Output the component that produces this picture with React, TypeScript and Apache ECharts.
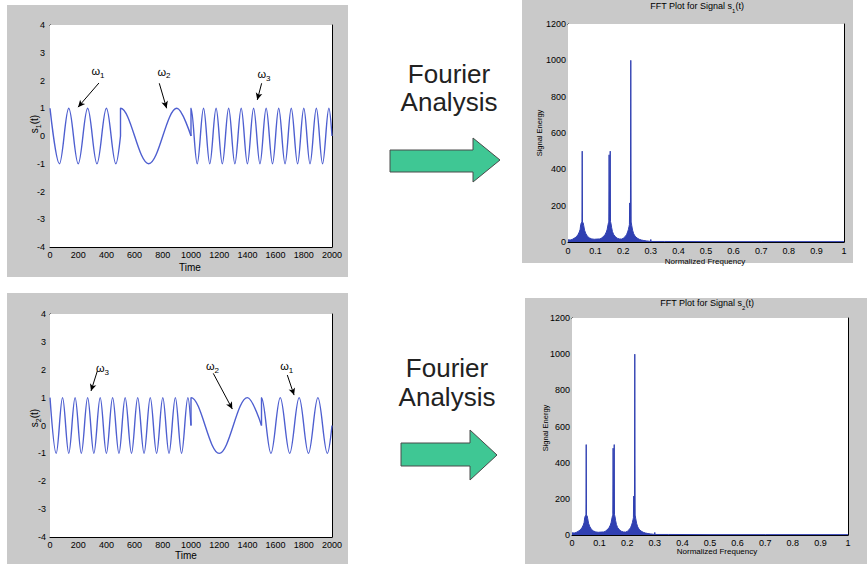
import React, { useEffect, useRef } from 'react';
import * as echarts from 'echarts';

// ---------- data ----------
// s1(t): extrema / segment-end points (time, amplitude); a repeated time is a jump
const s1Time = [0, 67, 133, 200, 267, 333, 400, 467, 500, 500, 700, 900, 1000, 1000,
  1044, 1089, 1133, 1178, 1222, 1267, 1311, 1356, 1400, 1444, 1489, 1533, 1578, 1622,
  1667, 1711, 1756, 1800, 1844, 1889, 1933, 1978, 2000];
const s1Value = [1, -1, 1, -1, 1, -1, 1, -1, 0, 1, -1, 1, 0, 1,
  -1, 1, -1, 1, -1, 1, -1, 1, -1, 1, -1, 1, -1, 1,
  -1, 1, -1, 1, -1, 1, -1, 1, 0];

// s2(t)
const s2Time = [0, 44, 89, 133, 178, 222, 267, 311, 356, 400, 444, 489, 533, 578, 622,
  667, 711, 756, 800, 844, 889, 933, 978, 1000, 1000, 1200, 1400, 1500, 1500,
  1567, 1633, 1700, 1767, 1833, 1900, 1967, 2000];
const s2Value = [1, -1, 1, -1, 1, -1, 1, -1, 1, -1, 1, -1, 1, -1, 1,
  -1, 1, -1, 1, -1, 1, -1, 1, 0, 1, -1, 1, 0, 1,
  -1, 1, -1, 1, -1, 1, -1, 0];

// FFT spectrum (normalized frequency, signal energy)
const fft1Points: [number, number][] = [
  [0, 12], [0.008, 11], [0.015, 14], [0.022, 20], [0.03, 28], [0.036, 40], [0.041, 55],
  [0.044, 70], [0.046, 95], [0.048, 105], [0.0505, 110], [0.0515, 500], [0.0525, 110],
  [0.055, 105], [0.057, 90], [0.06, 65], [0.064, 48], [0.07, 32], [0.078, 22], [0.086, 17],
  [0.095, 15], [0.105, 16], [0.115, 17],
  [0.12, 20], [0.127, 28], [0.134, 40], [0.139, 55], [0.142, 70], [0.145, 95], [0.147, 108],
  [0.148, 115], [0.149, 480], [0.15, 120], [0.1515, 118], [0.153, 500], [0.154, 112],
  [0.156, 100], [0.158, 80], [0.161, 58], [0.165, 42], [0.171, 30], [0.178, 21], [0.186, 17],
  [0.194, 16],
  [0.2, 20], [0.206, 28], [0.212, 40], [0.216, 55], [0.219, 70], [0.221, 85], [0.2225, 95],
  [0.2235, 215], [0.225, 205], [0.2262, 110], [0.2275, 1000], [0.2288, 110], [0.231, 90],
  [0.234, 65], [0.238, 45], [0.243, 32], [0.25, 22], [0.258, 15], [0.266, 11], [0.275, 8],
  [0.285, 6], [0.295, 4], [0.299, 4], [0.3, 14], [0.301, 3], [0.35, 3], [0.5, 2], [0.7, 2], [1, 2],
];
const fft2Points: [number, number][] = fft1Points;

// axis ranges [min, max, interval]
const timeRange = [0, 2000, 200];
const ampRange = [-4, 4, 1];
const freqRange = [0, 1, 0.1];
const energyRange = [0, 1200, 200];

// annotations: subscript, label position, arrow start, arrow end (data coords)
const s1Notes = [
  { sub: '1', at: [340, 2.34], from: [347, 1.91], to: [199, 1.04] },
  { sub: '2', at: [808, 2.31], from: [775, 1.9], to: [827, 1.0] },
  { sub: '3', at: [1518, 2.23], from: [1501, 1.9], to: [1470, 1.3] },
];
const s2Notes = [
  { sub: '3', at: [372, 2.06], from: [336, 1.96], to: [291, 1.24] },
  { sub: '2', at: [1152, 2.13], from: [1158, 1.87], to: [1293, 0.59] },
  { sub: '1', at: [1679, 2.13], from: [1683, 1.81], to: [1731, 1.09] },
];

// ---------- styling ----------
const FONT = 'Liberation Sans, Arial, sans-serif';
const SIG_BLUE = '#4e5fd0';
const FFT_BLUE = '#3040b2';
const PANEL = '#c9c9c9';

const fmt = (v: number) => String(Math.round(v * 1000) / 1000);

function makeX(grid: number, r: number[], margin: number) {
  const base: any = {
    type: 'value', gridIndex: grid, min: r[0], max: r[1], interval: r[2],
    splitLine: { show: false },
    axisLine: { show: true, onZero: false, lineStyle: { color: '#000', width: 1 } },
    axisTick: { show: true, inside: true, length: 4, lineStyle: { color: '#000' } },
  };
  return [
    { ...base, position: 'bottom', axisLabel: { show: true, margin, fontSize: 9, color: '#000', fontFamily: FONT, formatter: fmt } },
    { ...base, position: 'top', axisLabel: { show: false } },
  ];
}
function makeY(grid: number, r: number[], margin: number) {
  const base: any = {
    type: 'value', gridIndex: grid, min: r[0], max: r[1], interval: r[2],
    splitLine: { show: false },
    axisLine: { show: true, onZero: false, lineStyle: { color: '#000', width: 1 } },
    axisTick: { show: true, inside: true, length: 4, lineStyle: { color: '#000' } },
  };
  return [
    { ...base, position: 'left', axisLabel: { show: true, margin, fontSize: 9, color: '#000', fontFamily: FONT, formatter: fmt } },
    { ...base, position: 'right', axisLabel: { show: false } },
  ];
}

const subRich = (size: number, sub: number) => ({
  n: { fontSize: size, fontFamily: FONT, fill: '#000', color: '#000', lineHeight: size + 6 },
  s: { fontSize: sub, fontFamily: FONT, fill: '#000', color: '#000', verticalAlign: 'bottom', lineHeight: sub + 1 },
});

// split a signal at its jumps (repeated times); every piece after the first
// starts from the previous piece's last point so the jump is drawn as a vertical line
function splitAtJumps(t: number[], v: number[]) {
  const segs: number[][][] = [[]];
  for (let i = 0; i < t.length; i++) {
    if (i > 0 && t[i] === t[i - 1]) segs.push([[t[i - 1], v[i - 1]]]);
    segs[segs.length - 1].push([t[i], v[i]]);
  }
  return segs;
}

function signalSeries(idx: number, t: number[], v: number[], notes: any[]) {
  const segs = splitAtJumps(t, v);
  return segs.map((seg, k) => {
    const s: any = {
      type: 'line', xAxisIndex: idx * 2, yAxisIndex: idx * 2,
      data: seg, smooth: 0.36, smoothMonotone: 'x', symbol: 'none', animation: false,
      lineStyle: { color: SIG_BLUE, width: 1.4 },
    };
    if (k === 0) {
      s.markLine = {
        silent: true, animation: false,
        symbol: ['none', 'arrow'], symbolSize: [0, 7],
        label: { show: false },
        lineStyle: { color: '#000', width: 1, type: 'solid' },
        data: notes.map((n) => [
          { coord: n.from, symbol: 'none' },
          { coord: n.to, symbol: 'arrow', symbolSize: [5, 7] },
        ]),
      };
      s.markPoint = {
        silent: true, animation: false, symbol: 'circle', symbolSize: 0,
        itemStyle: { color: 'rgba(0,0,0,0)' },
        label: {
          show: true, position: 'inside', color: '#000',
          rich: {
            w: { fontSize: 11, fontFamily: FONT, color: '#000', lineHeight: 16 },
            s: { fontSize: 8, fontFamily: FONT, color: '#000', verticalAlign: 'bottom', lineHeight: 9 },
          },
        },
        data: notes.map((n) => ({ coord: n.at, value: n.sub, label: { formatter: '{w|ω}{s|' + n.sub + '}' } })),
      };
    }
    return s;
  });
}

function fftSeries(idx: number, pts: [number, number][]) {
  return {
    type: 'line', xAxisIndex: idx * 2, yAxisIndex: idx * 2,
    data: pts, symbol: 'none', animation: false,
    lineStyle: { color: FFT_BLUE, width: 1 },
    areaStyle: { color: FFT_BLUE, opacity: 1 },
  };
}

function txt(x: number, y: number, text: string, size: number, extra: any = {}, rot = 0) {
  return {
    type: 'text', x, y, rotation: rot, z: 10, silent: true,
    style: {
      text, x: 0, y: 0, fontSize: size, fontFamily: FONT, fill: '#000',
      align: 'center', verticalAlign: 'middle', ...extra,
    },
  };
}

export default function App() {
  const ref = useRef<HTMLDivElement>(null);
  useEffect(() => {
    if (!ref.current) return;
    const chart = echarts.init(ref.current, undefined, { renderer: 'svg' });
    const grids = [
      { left: 50, top: 25, width: 282, height: 222 },
      { left: 568, top: 24, width: 276, height: 218 },
      { left: 50, top: 314, width: 282, height: 223 },
      { left: 572, top: 318, width: 276, height: 217 },
    ].map((g) => ({ ...g, show: true, backgroundColor: '#fff', borderWidth: 0, z: 1 }));

    const xAxis = [
      ...makeX(0, timeRange, 3),
      ...makeX(1, freqRange, 4),
      ...makeX(2, timeRange, 3),
      ...makeX(3, freqRange, 3),
    ];
    const yAxis = [
      ...makeY(0, ampRange, 5),
      ...makeY(1, energyRange, 2),
      ...makeY(2, ampRange, 4),
      ...makeY(3, energyRange, 2),
    ];

    const arrowTop = [[390, 150], [473, 150], [473, 138], [500, 160], [473, 182], [473, 172], [390, 172]];
    const arrowBot = [[401, 443], [470, 443], [470, 430], [497, 455], [470, 480], [470, 466], [401, 466]];

    const graphic: any[] = [
      { type: 'rect', z: -10, silent: true, shape: { x: 7, y: 5, width: 341, height: 272 }, style: { fill: PANEL } },
      { type: 'rect', z: -10, silent: true, shape: { x: 522, y: 0, width: 331, height: 263 }, style: { fill: PANEL } },
      { type: 'rect', z: -10, silent: true, shape: { x: 7, y: 293, width: 341, height: 271 }, style: { fill: PANEL } },
      { type: 'rect', z: -10, silent: true, shape: { x: 525, y: 298, width: 342, height: 266 }, style: { fill: PANEL } },
      { type: 'polygon', z: 10, silent: true, shape: { points: arrowTop }, style: { fill: '#3fc794', stroke: '#4a4a4a', lineWidth: 1 } },
      { type: 'polygon', z: 10, silent: true, shape: { points: arrowBot }, style: { fill: '#3fc794', stroke: '#4a4a4a', lineWidth: 1 } },
      txt(449, 88, 'Fourier\nAnalysis', 26, { fill: '#222', lineHeight: 28 }),
      txt(447, 382, 'Fourier\nAnalysis', 26, { fill: '#222', lineHeight: 29 }),
      txt(190, 267, 'Time', 10),
      txt(186, 555, 'Time', 10),
      txt(34, 124, '{n|s}{s|1}{n|(t)}', 10, { rich: subRich(10, 7) }, Math.PI / 2),
      txt(34, 418, '{n|s}{s|2}{n|(t)}', 10, { rich: subRich(10, 7) }, Math.PI / 2),
      txt(539, 133, 'Signal Energy', 7.5, {}, Math.PI / 2),
      txt(545, 428, 'Signal Energy', 7.5, {}, Math.PI / 2),
      txt(705, 261, 'Normalized Frequency', 8),
      txt(717, 551, 'Normalized Frequency', 8),
      txt(697, 6, '{n|FFT Plot for Signal s}{s|1}{n|(t)}', 9, { rich: subRich(9, 6) }),
      txt(707, 303, '{n|FFT Plot for Signal s}{s|2}{n|(t)}', 9, { rich: subRich(9, 6) }),
    ];

    chart.setOption({
      animation: false,
      backgroundColor: '#fff',
      grid: grids,
      xAxis,
      yAxis,
      graphic,
      series: [
        ...signalSeries(0, s1Time, s1Value, s1Notes),
        fftSeries(1, fft1Points),
        ...signalSeries(2, s2Time, s2Value, s2Notes),
        fftSeries(3, fft2Points),
      ],
    });
    return () => chart.dispose();
  }, []);
  return (
    <div
      ref={ref}
      style={{ position: 'fixed', left: 0, top: 0, width: 867, height: 564, background: '#fff' }}
    />
  );
}
